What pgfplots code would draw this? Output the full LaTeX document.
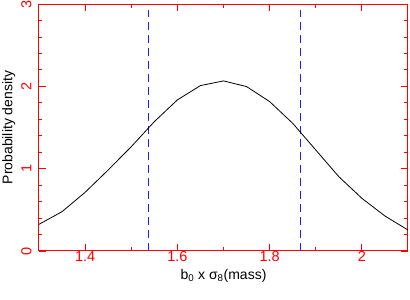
\documentclass[border=0pt]{standalone}
\usepackage{fontspec}
\setmainfont{Liberation Sans}
\usepackage{pgfplots}
\pgfplotsset{compat=1.18}
\definecolor{dashblue}{RGB}{30,30,255}
\begin{document}
\begin{tikzpicture}
\path[use as bounding box] (-39pt,-49pt) rectangle (371pt,251pt);
\begin{axis}[
  scale only axis, width=369pt, height=247pt,
  at={(0,0)}, anchor=south west,
  xmin=1.3, xmax=2.1, ymin=0, ymax=3,
  xtick={1.4,1.6,1.8,2.0}, xticklabels={1.4,1.6,1.8,2},
  ytick={0,1,2,3},
  minor x tick num=1, minor y tick num=4,
  tick align=inside,
  major tick length=7pt, minor tick length=3.5pt,
  axis line style={red, line width=1pt},
  every tick/.style={red, line width=0.8pt},
  tick label style={red, font=\fontsize{14.5}{16}\selectfont},
  /pgf/number format/assume math mode=true,
  yticklabel style={xshift=-4pt, rotate=90, anchor=south},
  xticklabel shift=-3pt,
  label style={black, font=\fontsize{14}{16}\selectfont},
  xlabel={b\textsubscript{0} x σ\textsubscript{8}(mass)},
  ylabel={Probability density},
  xlabel style={yshift=-1pt},
  ylabel style={yshift=-1pt},
  clip=false,
  unbounded coords=jump,
]
\addplot[color=dashblue, line width=1.2pt, dash pattern=on 8pt off 5pt] coordinates {
(1.538,0) (1.538,2.93) (1.7,nan) (1.8675,0) (1.8675,2.93)};
\addplot[color=black, line width=0.8pt] coordinates {
(1.30,0.324) (1.35,0.478) (1.40,0.713) (1.45,0.984) (1.50,1.267)
(1.55,1.571) (1.60,1.835) (1.65,2.009) (1.70,2.066) (1.75,1.997)
(1.80,1.815) (1.85,1.551) (1.90,1.227) (1.95,0.903) (2.00,0.640)
(2.05,0.425) (2.10,0.255)};
\end{axis}
\end{tikzpicture}
\end{document}
